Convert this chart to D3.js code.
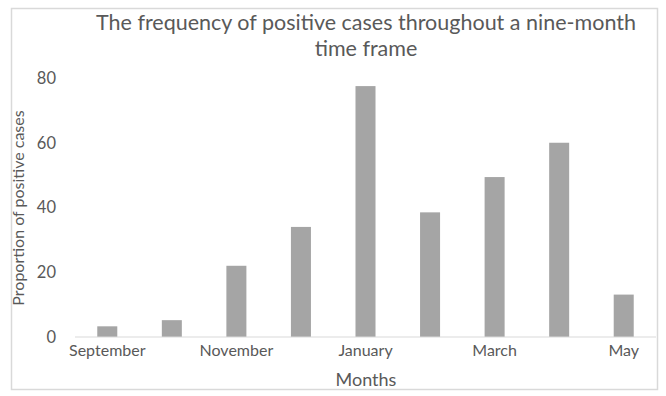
<!DOCTYPE html>
<html>
<head>
<meta charset="utf-8">
<script src="https://cdn.jsdelivr.net/npm/d3@7"></script>
<style>
  html, body { margin: 0; padding: 0; background: #fff; }
  svg { display: block; font-family: Lato, "Open Sans", sans-serif; }
</style>
</head>
<body>
<svg id="chart" width="666" height="396"></svg>
<script>
const categories = ["September", "October", "November", "December", "January", "February", "March", "April", "May"];
const values = [3.3, 5.2, 22, 34, 77.5, 38.5, 49.4, 60, 13.1];
const shownLabels = ["September", "November", "January", "March", "May"];
const yTicks = [0, 20, 40, 60, 80];
const titleLines = ["The frequency of positive cases throughout a nine-month", "time frame"];
const xTitle = "Months";
const yTitle = "Proportion of positive cases";

const svg = d3.select("#chart");
const textColor = "#595959";

// outer frame
svg.append("rect")
  .attr("x", 11.5).attr("y", 8.5)
  .attr("width", 646).attr("height", 381)
  .attr("fill", "#fff")
  .attr("stroke", "#d9d9d9").attr("stroke-width", 1.5);

const x = d3.scaleBand().domain(categories).range([75, 656]).paddingInner(0.69).paddingOuter(0.345);
const y = d3.scaleLinear().domain([0, 80]).range([337, 78]);

// bars
svg.append("g").selectAll("rect")
  .data(categories.map((c, i) => ({ c, v: values[i] })))
  .join("rect")
  .attr("x", d => x(d.c))
  .attr("y", d => y(d.v))
  .attr("width", x.bandwidth())
  .attr("height", d => y(0) - y(d.v))
  .attr("fill", "#a5a5a5");

// baseline
svg.append("line")
  .attr("x1", 75).attr("x2", 656)
  .attr("y1", y(0)).attr("y2", y(0))
  .attr("stroke", "#d9d9d9").attr("stroke-width", 1.2);

// y axis (labels only)
const yAxis = d3.axisLeft(y).tickValues(yTicks).tickSize(0).tickPadding(0);
const gy = svg.append("g").attr("transform", "translate(56,0)").call(yAxis);
gy.select(".domain").remove();
gy.selectAll("text").attr("fill", textColor).attr("font-size", 16.5).attr("font-family", "Lato, sans-serif");

// x axis (labels only, every other)
const xAxis = d3.axisBottom(x).tickSize(0).tickPadding(0)
  .tickFormat(d => shownLabels.includes(d) ? d : "");
const gx = svg.append("g").attr("transform", `translate(0,${y(0) + 8})`).call(xAxis);
gx.select(".domain").remove();
gx.selectAll("text").attr("fill", textColor).attr("font-size", 16).attr("font-family", "Lato, sans-serif");

// title
svg.append("text")
  .attr("text-anchor", "middle")
  .attr("fill", textColor)
  .attr("font-size", 21.5)
  .selectAll("tspan")
  .data(titleLines)
  .join("tspan")
  .attr("x", 366)
  .attr("y", (d, i) => 30 + i * 26)
  .text(d => d);

// x title
svg.append("text")
  .attr("x", 366).attr("y", 386)
  .attr("text-anchor", "middle")
  .attr("fill", textColor)
  .attr("font-size", 18)
  .text(xTitle);

// y title
svg.append("text")
  .attr("transform", "translate(24,208) rotate(-90)")
  .attr("text-anchor", "middle")
  .attr("fill", textColor)
  .attr("font-size", 16)
  .text(yTitle);
</script>
</body>
</html>
